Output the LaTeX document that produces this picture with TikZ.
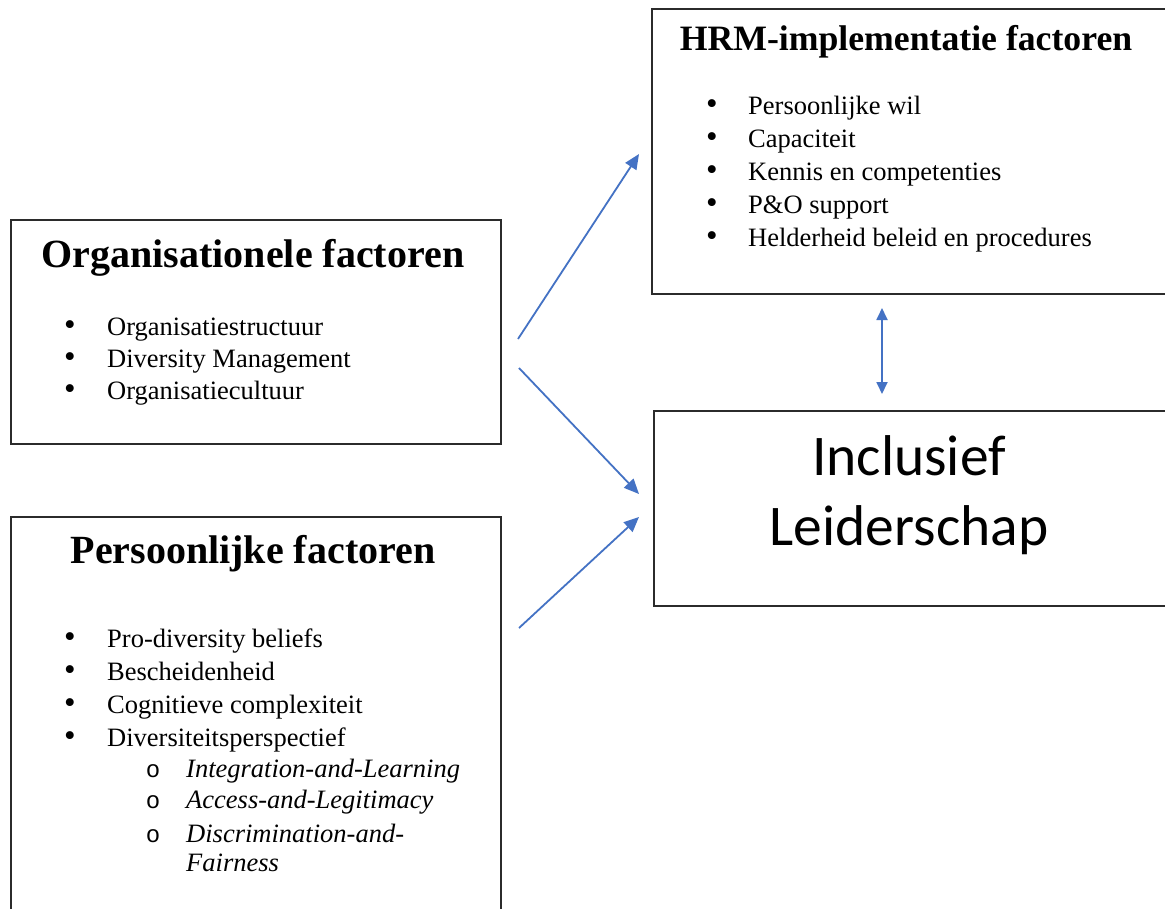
\documentclass[tikz,border=0pt]{standalone}
\usepackage{fontspec}
\setmainfont{Liberation Serif}
\newfontfamily\calib{Carlito}
\newfontfamily\cour{Liberation Mono}
\usetikzlibrary{arrows.meta}
\definecolor{arrowblue}{HTML}{4472C4}
\definecolor{boxline}{HTML}{2B2B2B}
\tikzset{
  box/.style={draw=boxline, line width=1.8pt, rectangle, inner sep=0pt, anchor=north west},
  title/.style={anchor=base, inner sep=0pt, font=\fontsize{40}{48}\selectfont\bfseries},
  htitle/.style={anchor=base, inner sep=0pt, font=\fontsize{35.7}{43}\selectfont\bfseries},
  itemtext/.style={anchor=base west, inner sep=0pt, font=\fontsize{26.5}{32}\selectfont},
  subtext/.style={anchor=base west, inner sep=0pt, font=\fontsize{26.5}{32}\selectfont\itshape},
  bulletmark/.style={anchor=base, inner sep=0pt, font=\fontsize{33}{36}\selectfont},
  submark/.style={anchor=base, inner sep=0pt, font=\fontsize{24}{32}\cour},
  bigtext/.style={anchor=base, inner sep=0pt, font=\fontsize{57.5}{69}\calib},
  conn/.style={draw=arrowblue, line width=1.8pt, -{Triangle[length=15pt,width=13pt]}},
  dconn/.style={draw=arrowblue, line width=1.8pt, {Triangle[length=12pt,width=11pt]}-{Triangle[length=12pt,width=11pt]}}
}
\begin{document}
\begin{tikzpicture}[x=1pt,y=-1pt]
\clip (0,0) rectangle (1165,908);
\fill[white] (0,0) rectangle (1165,908);

% boxes
\node[box, minimum width=490pt, minimum height=224pt] (org) at (10,219) {};
\node[box, minimum width=490pt, minimum height=420pt] (pers) at (10,516) {};
\node[box, minimum width=516pt, minimum height=285pt] (hrm) at (651,8) {};
\node[box, minimum width=514pt, minimum height=195pt] (incl) at (653,410) {};

% Organisationele factoren
\node[title] (orgtitle) at (253,267) {Organisationele factoren};
\foreach \t [count=\i] in {Organisatiestructuur, Diversity Management, Organisatiecultuur} {
  \node[bulletmark] (ob\i) at (70,{335+32*(\i-1)}) {\smash{\textbullet}};
  \node[itemtext] (ot\i) at (107,{335+32*(\i-1)}) {\t};
}

% HRM
\node[htitle] (hrmtitle) at (906,50) {HRM-implementatie factoren};
\foreach \t [count=\i] in {Persoonlijke wil, Capaciteit, Kennis en competenties, P\&O support, Helderheid beleid en procedures} {
  \node[bulletmark] (hb\i) at (712,{114+33*(\i-1)}) {\smash{\textbullet}};
  \node[itemtext] (ht\i) at (748,{114+33*(\i-1)}) {\t};
}

% Persoonlijke factoren
\node[title] (perstitle) at (253,563) {Persoonlijke factoren};
\foreach \t/\y [count=\i] in {Pro-diversity beliefs/647, Bescheidenheid/680, Cognitieve complexiteit/713, Diversiteitsperspectief/746} {
  \node[bulletmark] (pb\i) at (70,\y) {\smash{\textbullet}};
  \node[itemtext] (pt\i) at (107,\y) {\t};
}
\foreach \t/\y [count=\i] in {Integration-and-Learning/777, Access-and-Legitimacy/808, Discrimination-and-/842} {
  \node[submark] (sb\i) at (153,\y) {o};
  \node[subtext] (st\i) at (186,\y) {\t};
}
\node[subtext] (st4) at (186,871) {Fairness};

% Inclusief Leiderschap
\node[bigtext] (incl1) at (909,475) {Inclusief};
\node[bigtext] (incl2) at (909,545) {Leiderschap};

% connectors
\coordinate (a1s) at (518,339);
\coordinate (a1e) at (639,154);
\coordinate (a2s) at (519,368);
\coordinate (a2e) at (639,494);
\coordinate (a3s) at (519,628);
\coordinate (a3e) at (639,517);
\coordinate (ds) at (882,308);
\coordinate (de) at (882,394);
\draw[conn] (a1s) -- (a1e);
\draw[conn] (a2s) -- (a2e);
\draw[conn] (a3s) -- (a3e);
\draw[dconn] (ds) -- (de);
\end{tikzpicture}
\end{document}
